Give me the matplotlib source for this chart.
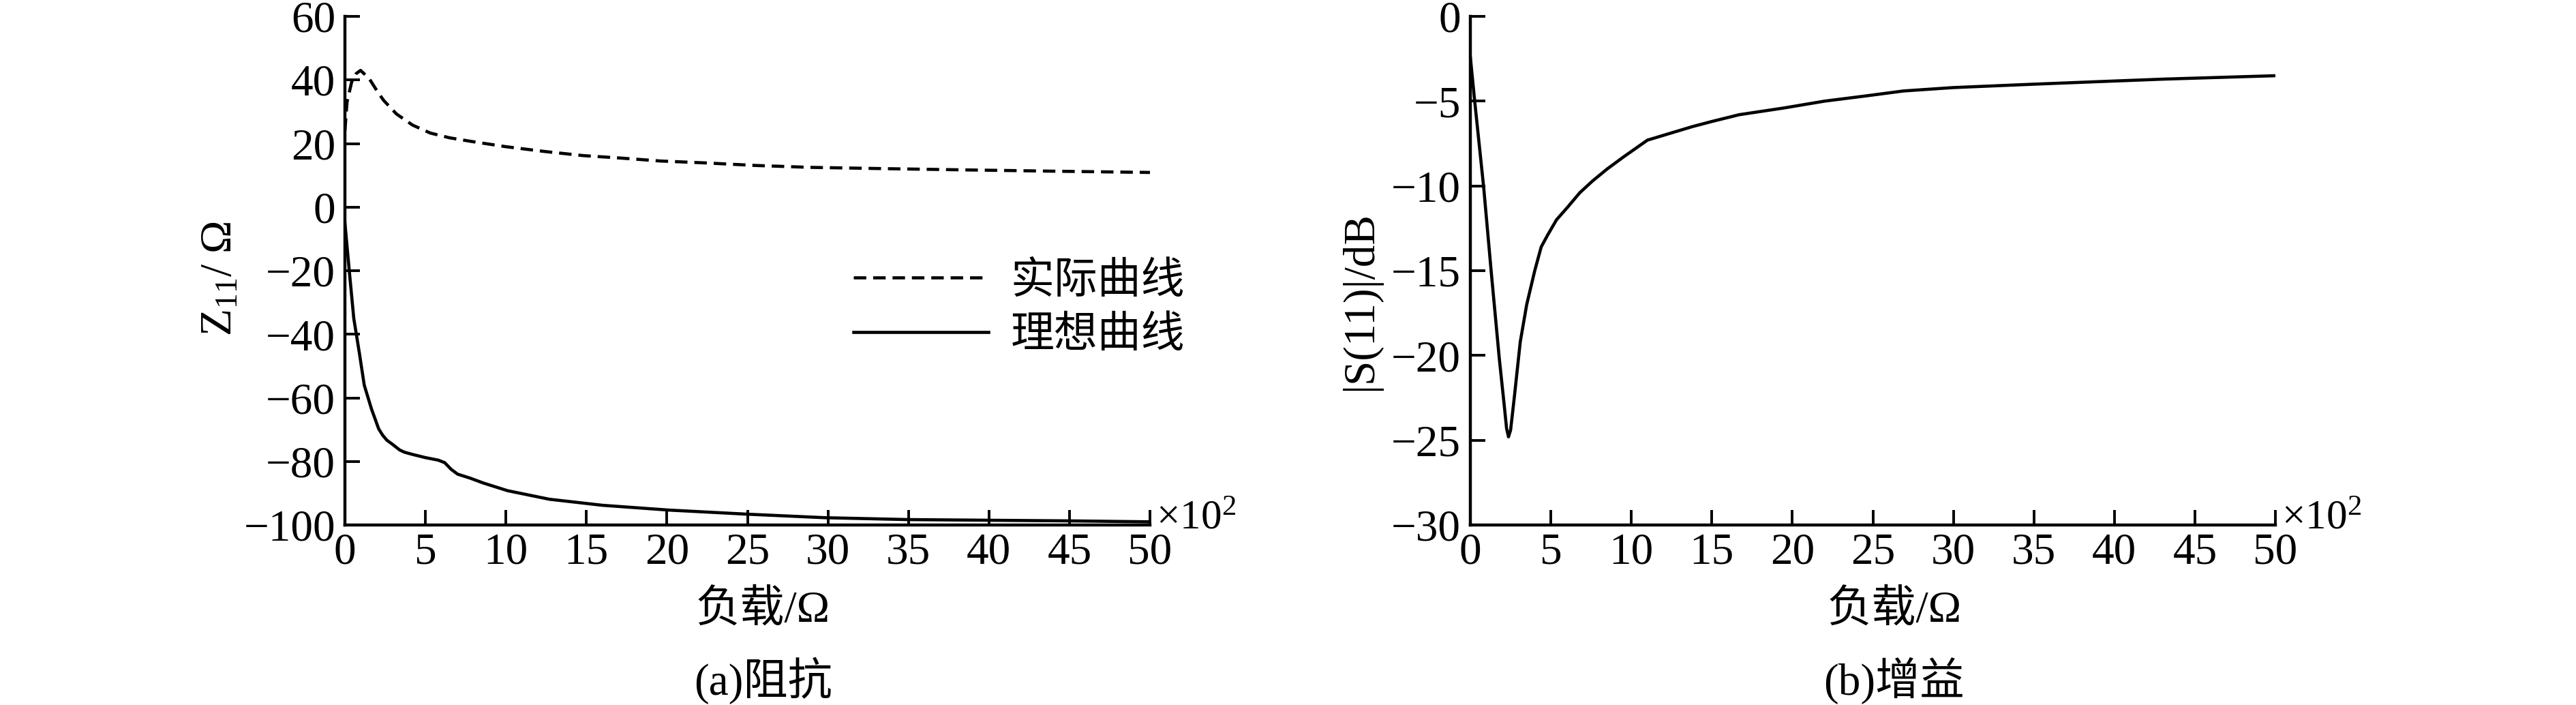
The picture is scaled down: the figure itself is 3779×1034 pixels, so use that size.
import matplotlib
matplotlib.use("Agg")
import matplotlib.pyplot as plt

plt.rcParams['font.family'] = ['Liberation Serif', 'Noto Sans CJK SC']
plt.rcParams['mathtext.fontset'] = 'custom'
plt.rcParams['mathtext.rm'] = 'Liberation Serif'
plt.rcParams['mathtext.it'] = 'Liberation Serif:italic'
plt.rcParams['axes.unicode_minus'] = True

# (a) impedance, x in units of 1e2 ohm
x_real = [0, 0.13, 0.42, 0.7, 0.97, 1.5, 2.0, 2.4, 3.2, 4.2, 5.3, 6.5, 7.8, 10.0,
          12.4, 14.8, 17.2, 19.6, 22.4, 25.5, 28.9, 33.5, 38.6, 44.0, 50.0]
y_real = [24, 33, 39.4, 42, 43, 40.5, 36.5, 33.6, 29.3, 25.8, 23.3, 21.8, 20.7, 19.0,
          17.5, 16.2, 15.4, 14.5, 13.9, 13.1, 12.5, 12.1, 11.7, 11.3, 10.9]

x_ideal = [0, 0.27, 0.55, 0.9, 1.2, 1.65, 2.1, 2.35, 2.6, 3.0, 3.4, 3.7, 4.2, 5.0, 5.8, 6.2,
           6.6, 7.0, 7.8, 8.6, 10.1, 12.7, 16.0, 20.1, 25.0, 29.8, 35.0, 39.9, 45.0, 50.0]
y_ideal = [-5, -20, -35, -46, -56, -63.5, -69.8, -71.8, -73.3, -74.8, -76.4, -77.1, -77.8, -78.8, -79.6, -80.4,
           -82.5, -84.0, -85.3, -86.8, -89.2, -91.9, -93.8, -95.3, -96.6, -97.7, -98.3, -98.5, -98.7, -99.0]

# (b) gain
x_s11 = [0, 0.27, 0.83, 1.3, 1.8, 2.1, 2.25, 2.37, 2.5, 2.62, 2.75, 3.1, 3.5, 4.0, 4.4, 4.8,
         5.35, 6.0, 6.8, 7.6, 8.5, 9.5, 11.0, 12.4, 13.8, 15.0, 16.7, 19.5, 22.0, 24.5, 26.9,
         30.0, 35.0, 39.0, 43.1, 50.0]
y_s11 = [-2.4, -5.0, -10.1, -15.1, -20.2, -22.9, -24.3, -24.8, -24.4, -23.4, -22.3, -19.2, -17.0, -15.0, -13.6, -12.9,
         -12.0, -11.3, -10.4, -9.7, -9.0, -8.3, -7.3, -6.9, -6.5, -6.2, -5.8, -5.4, -5.0, -4.7, -4.4,
         -4.2, -4.0, -3.85, -3.7, -3.5]

xticks = list(range(0, 55, 5))
yticks_a = list(range(-100, 61, 20))
yticks_b = list(range(-30, 1, 5))

W, H = 3779, 1034
FS = 47
LW = 3.3
fig = plt.figure(figsize=(W / 100, H / 100), dpi=100)

ax_bottom = 1 - 770 / H
ax_h = 746 / H
ax1 = fig.add_axes([506 / W, ax_bottom, 1181 / W, ax_h])
ax2 = fig.add_axes([2157 / W, ax_bottom, 1181 / W, ax_h])


def style(ax, yticks):
    for s in ['top', 'right']:
        ax.spines[s].set_visible(False)
    for s in ['left', 'bottom']:
        ax.spines[s].set_linewidth(3.2)
    ax.set_xlim(0, 50)
    ax.set_ylim(yticks[0], yticks[-1])
    ax.set_xticks(xticks)
    ax.set_yticks(yticks)
    ax.tick_params(direction='in', length=16, width=2.8, labelsize=FS)
    ax.tick_params(axis='x', pad=8)
    ax.tick_params(axis='y', pad=10)
    ax.text(1.008, -0.008, r'×10$^{2}$', transform=ax.transAxes, ha='left', va='baseline',
            fontsize=FS - 3)


style(ax1, yticks_a)
style(ax2, yticks_b)

ax1.plot(x_real, y_real, color='black', lw=LW, linestyle=(0, (4.0, 2.2)), label='实际曲线')
ax1.plot(x_ideal, y_ideal, color='black', lw=LW, label='理想曲线')
ax2.plot(x_s11, y_s11, color='black', lw=LW)

ax1.set_ylabel(r'Z$_{\mathrm{11}}$/ Ω', fontsize=FS, va='center')
ax1.yaxis.set_label_coords(-0.155, 0.485)
ax2.set_ylabel('|S(11)|/dB', fontsize=FS, va='center')
ax2.yaxis.set_label_coords(-0.136, 0.44)

ax1.set_xlabel('负载/Ω', fontsize=FS, va='center')
ax1.xaxis.set_label_coords(0.519, -0.168)
ax2.set_xlabel('负载/Ω', fontsize=FS, va='center')
ax2.xaxis.set_label_coords(0.527, -0.168)

ax1.legend(loc='center left', bbox_to_anchor=(0.632, 0.424), frameon=False, fontsize=FS - 1,
           handlelength=3.1, handletextpad=0.5, labelspacing=0.32, borderpad=0, borderaxespad=0)

fig.text(1120 / W, 1 - 998 / H, '(a)阻抗', fontsize=FS, ha='center', va='center')
fig.text(2778 / W, 1 - 998 / H, '(b)增益', fontsize=FS, ha='center', va='center')

fig.savefig('out.png', dpi=100, facecolor='white')
